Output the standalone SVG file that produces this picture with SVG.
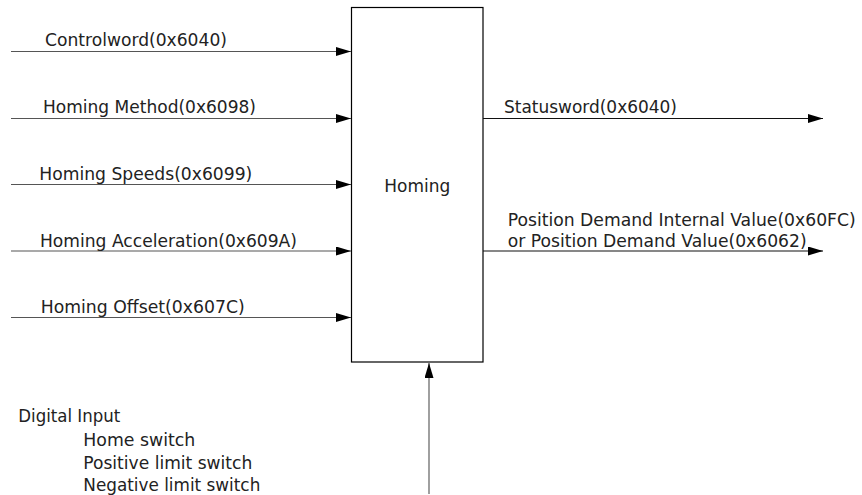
<svg xmlns="http://www.w3.org/2000/svg" width="862" height="495" viewBox="0 0 862 495">
<style>
text{font-family:"DejaVu Sans","Liberation Sans",sans-serif;font-size:17px;fill:#222;}
.in{stroke:#555;stroke-width:1.2;fill:none;}
.out{stroke:#111;stroke-width:1.2;fill:none;}
.up{stroke:#888;stroke-width:1.6;fill:none;}
</style>
<defs>
<marker id="ah" markerUnits="userSpaceOnUse" markerWidth="15" markerHeight="9" refX="15" refY="4.5" orient="auto">
<path d="M0,0 L15,4.5 L0,9 z" fill="#000"/>
</marker>
</defs>
<g id="homing">
<rect x="351.5" y="7.5" width="131.5" height="354.5" fill="#fff" stroke="#000" stroke-width="1.2"/>
<text x="384.3" y="191.5" textLength="66" lengthAdjust="spacingAndGlyphs">Homing</text>
</g>
<g id="connectors">
<line class="in" x1="11" y1="51.5" x2="351" y2="51.5" marker-end="url(#ah)"/>
<line class="in" x1="11" y1="118.5" x2="351" y2="118.5" marker-end="url(#ah)"/>
<line class="in" x1="11" y1="184.5" x2="351" y2="184.5" marker-end="url(#ah)"/>
<line class="in" x1="11" y1="251" x2="351" y2="251" marker-end="url(#ah)"/>
<line class="in" x1="11" y1="317.5" x2="351" y2="317.5" marker-end="url(#ah)"/>
<line class="out" x1="483" y1="118.5" x2="823" y2="118.5" marker-end="url(#ah)"/>
<line class="out" x1="483" y1="251" x2="823" y2="251" marker-end="url(#ah)"/>
<line class="up" x1="429" y1="494" x2="429" y2="363" marker-end="url(#ah)"/>
</g>
<g id="labels">
<text x="45" y="46" textLength="182" lengthAdjust="spacingAndGlyphs">Controlword(0x6040)</text>
<text x="43" y="113" textLength="213" lengthAdjust="spacingAndGlyphs">Homing Method(0x6098)</text>
<text x="39.3" y="180" textLength="213" lengthAdjust="spacingAndGlyphs">Homing Speeds(0x6099)</text>
<text x="40" y="246.5" textLength="257" lengthAdjust="spacingAndGlyphs">Homing Acceleration(0x609A)</text>
<text x="40.7" y="313" textLength="204" lengthAdjust="spacingAndGlyphs">Homing Offset(0x607C)</text>
<text x="504" y="113" textLength="173" lengthAdjust="spacingAndGlyphs">Statusword(0x6040)</text>
<text x="507.7" y="226" textLength="348" lengthAdjust="spacingAndGlyphs">Position Demand Internal Value(0x60FC)</text>
<text x="507.7" y="246.5" textLength="299" lengthAdjust="spacingAndGlyphs">or Position Demand Value(0x6062)</text>
</g>
<g id="digital-input">
<text x="18.3" y="421.5" textLength="102" lengthAdjust="spacingAndGlyphs">Digital Input</text>
<text x="83.3" y="445.5" textLength="112" lengthAdjust="spacingAndGlyphs">Home switch</text>
<text x="83.3" y="468.5" textLength="169" lengthAdjust="spacingAndGlyphs">Positive limit switch</text>
<text x="83.3" y="491" textLength="177" lengthAdjust="spacingAndGlyphs">Negative limit switch</text>
</g>
</svg>
